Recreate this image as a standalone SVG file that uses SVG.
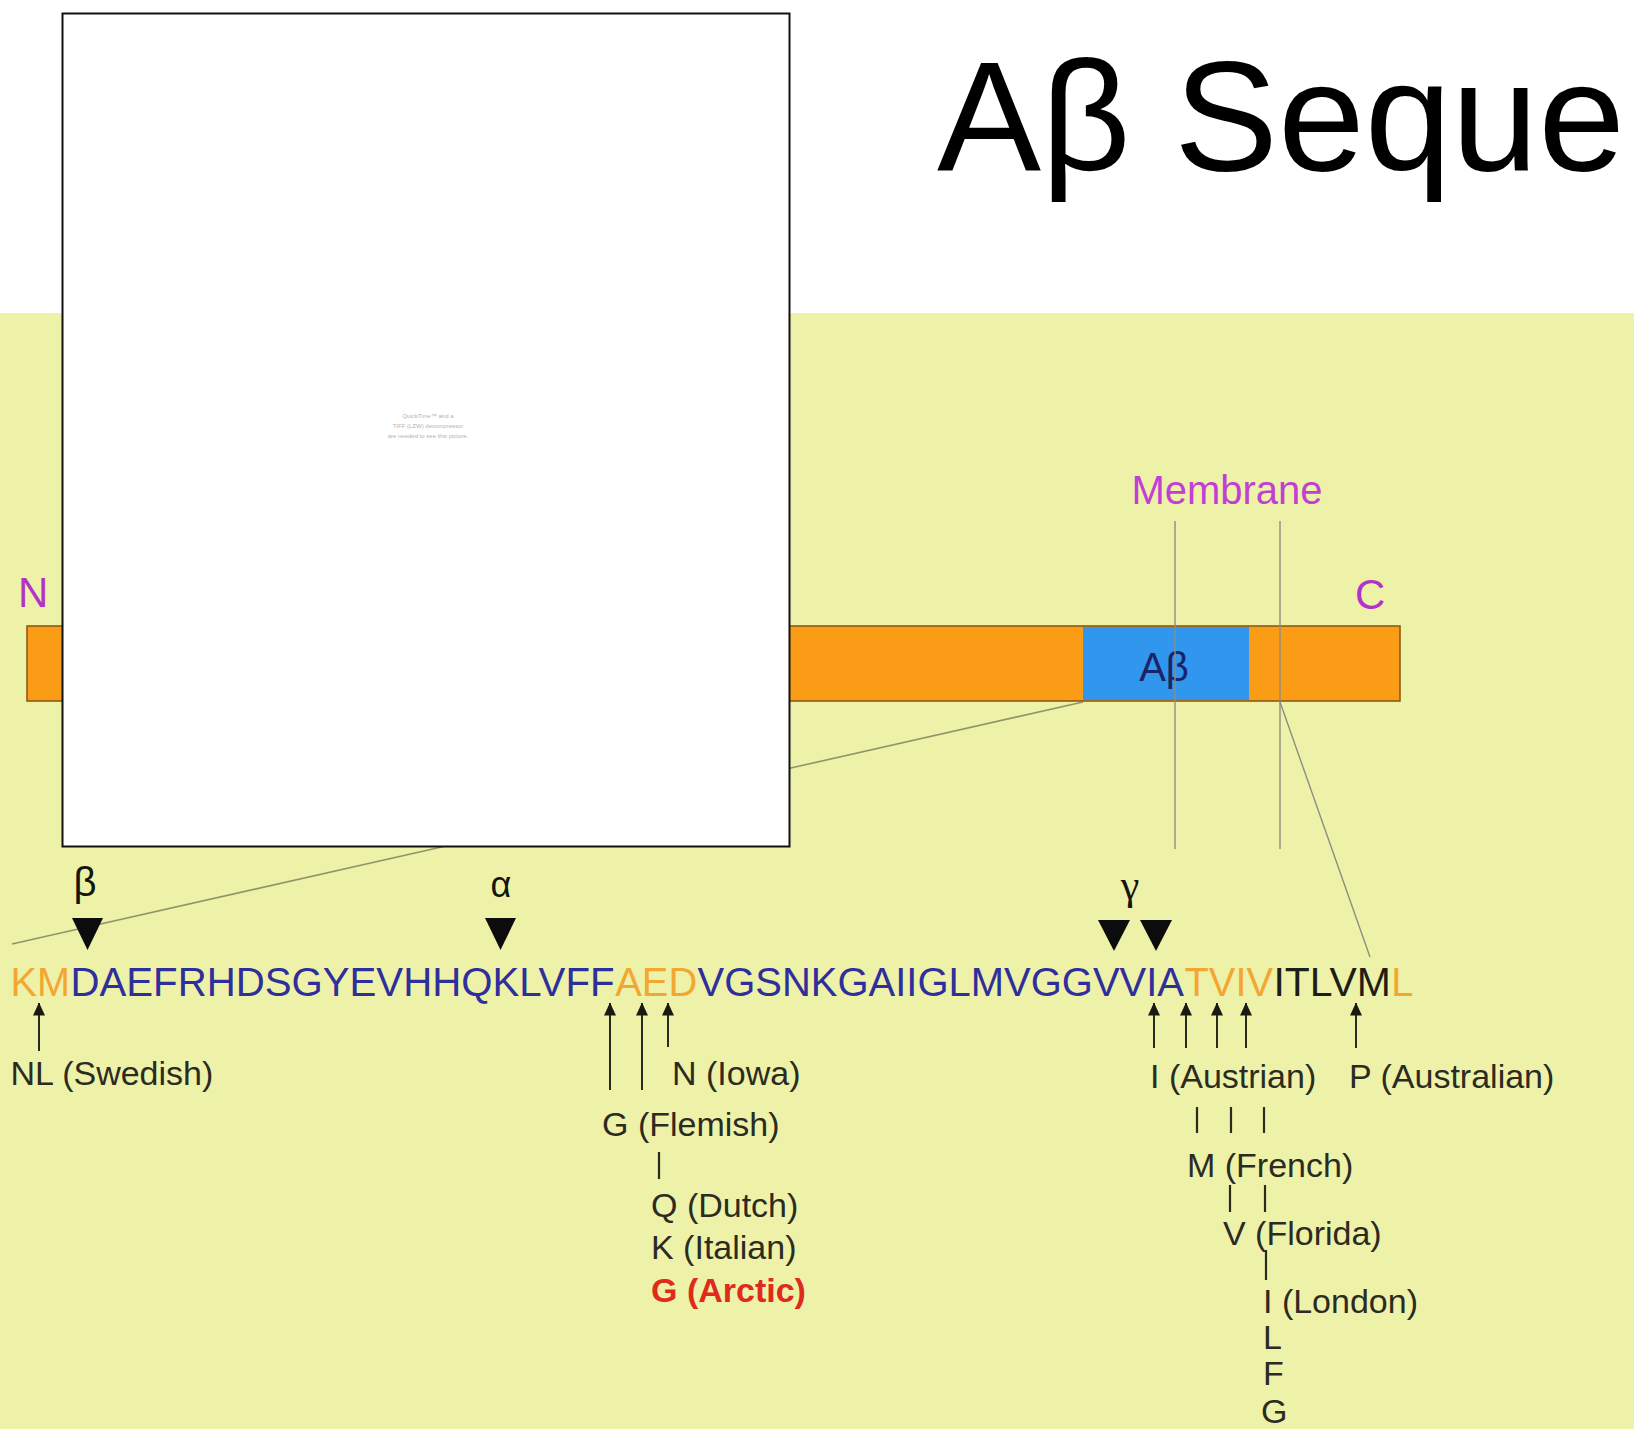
<svg xmlns="http://www.w3.org/2000/svg" width="1634" height="1429" viewBox="0 0 1634 1429">
  <style>
    .sans { font-family: "Liberation Sans", Arial, Helvetica, sans-serif; }
    .lbl { font-family: "Liberation Sans", Arial, sans-serif; font-size: 34px; fill: #2b2b22; }
    .term { font-family: "Liberation Sans", Arial, sans-serif; font-size: 42px; fill: #b233c8; }
    .greek { font-family: "Liberation Sans", Arial, sans-serif; font-size: 34px; fill: #151510; text-anchor: middle; }
    .res { font-family: "Liberation Sans", Arial, sans-serif; font-size: 40px; }
    .cut { fill: #0c0c0c; }
    .arrow { stroke: #2a2a1e; stroke-width: 2; fill: none; marker-end: url(#head); }
    .tick { stroke: #2a2a1e; stroke-width: 2.2; }
    .guide { stroke: #8d8f80; stroke-width: 1.4; fill: none; }
    .zoomline { stroke: #8e9668; stroke-width: 1.6; fill: none; }
    .ora { fill: #f3a733; }
    .blu { fill: #2f2f9c; }
    .blk { fill: #1e1e18; }
  </style>
  <defs>
    <marker id="head" viewBox="0 0 13 12" refX="12.5" refY="6" markerWidth="13" markerHeight="12" orient="auto" markerUnits="userSpaceOnUse">
      <path d="M0,0 L13,6 L0,12 z" fill="#1a1a12"/>
    </marker>
  </defs>

  <!-- page background: white header, yellow body -->
  <rect x="0" y="0" width="1634" height="1429" fill="#ffffff"/>
  <rect x="0" y="313" width="1634" height="1116" fill="#eef2a9"/>

  <!-- title -->
  <g id="title">
    <text x="937" y="170" class="sans" font-size="156" fill="#000" textLength="688" lengthAdjust="spacing">Aβ Seque</text>
  </g>

  <!-- connectors: zoom lines, membrane boundaries, mutation arrows and ticks -->
  <g id="connectors">
    <line class="zoomline" x1="1083" y1="702" x2="12" y2="944"/>
    <line class="guide" x1="1280" y1="702" x2="1370" y2="957"/>

    <!-- mutation arrows pointing up at residues -->
    <line class="arrow" x1="39" y1="1051" x2="39" y2="1003"/>
    <line class="arrow" x1="610" y1="1090" x2="610" y2="1003"/>
    <line class="arrow" x1="642" y1="1090" x2="642" y2="1003"/>
    <line class="arrow" x1="668" y1="1047" x2="668" y2="1003"/>
    <line class="arrow" x1="1154" y1="1048" x2="1154" y2="1003"/>
    <line class="arrow" x1="1186" y1="1048" x2="1186" y2="1003"/>
    <line class="arrow" x1="1217" y1="1048" x2="1217" y2="1003"/>
    <line class="arrow" x1="1246" y1="1048" x2="1246" y2="1003"/>
    <line class="arrow" x1="1356" y1="1048" x2="1356" y2="1003"/>

    <!-- vertical ticks linking stacked variants -->
    <line class="tick" x1="659" y1="1152" x2="659" y2="1179"/>
    <line class="tick" x1="1197" y1="1107" x2="1197" y2="1133"/>
    <line class="tick" x1="1231" y1="1107" x2="1231" y2="1133"/>
    <line class="tick" x1="1264" y1="1107" x2="1264" y2="1133"/>
    <line class="tick" x1="1230" y1="1185" x2="1230" y2="1212"/>
    <line class="tick" x1="1265" y1="1185" x2="1265" y2="1212"/>
    <line class="tick" x1="1266" y1="1250" x2="1266" y2="1280"/>
  </g>

  <!-- APP bar with the Aβ segment -->
  <g id="app-bar">
    <rect x="27" y="626" width="1373" height="75" fill="#fa9c16" stroke="#8c5a16" stroke-width="1.6"/>
    <rect x="1083" y="627" width="166" height="73" fill="#3196ee"/>
    <text x="1164" y="681" class="sans" font-size="40" fill="#1a2466" text-anchor="middle">Aβ</text>
  </g>

  <!-- membrane boundaries drawn across the bar -->
  <g id="membrane">
    <line class="guide" x1="1175" y1="521" x2="1175" y2="849"/>
    <line class="guide" x1="1280" y1="521" x2="1280" y2="849"/>
    <text x="1227" y="504" class="sans" font-size="40" fill="#c23fd3" text-anchor="middle">Membrane</text>
  </g>

  <g id="n-terminus"><text x="18" y="607" class="term">N</text></g>
  <g id="c-terminus"><text x="1355" y="609" class="term">C</text></g>

  <!-- empty movie frame with its placeholder notice -->
  <g id="frame">
    <rect x="62.5" y="13.5" width="727" height="833" fill="#ffffff" stroke="#111" stroke-width="2"/>
    <g class="sans" font-size="6" fill="#b4b4b4" text-anchor="middle">
      <text x="428" y="418">QuickTime™ and a</text>
      <text x="428" y="428">TIFF (LZW) decompressor</text>
      <text x="428" y="438">are needed to see this picture.</text>
    </g>
  </g>

  <!-- secretase cleavage sites -->
  <g id="beta-site">
    <text x="85" y="896" class="greek" style="font-size:40px">β</text>
    <path class="cut" d="M72,918 L103,918 L87.5,950 z"/>
  </g>
  <g id="alpha-site">
    <text x="501" y="897" class="greek" style="font-size:36px">α</text>
    <path class="cut" d="M485,918 L516,918 L500.5,950 z"/>
  </g>
  <g id="gamma-site">
    <text x="1130" y="899" class="greek" style="font-family:'Liberation Serif','Times New Roman',serif;font-size:42px">γ</text>
    <path class="cut" d="M1098,920 L1130,920 L1114,951 z"/>
    <path class="cut" d="M1140,920 L1172,920 L1156,951 z"/>
  </g>

  <!-- residue sequence, one run per colour -->
  <g id="sequence">
    <text x="10.5" y="996" class="res ora" textLength="59.5" lengthAdjust="spacingAndGlyphs">KM</text>
    <text x="70.5" y="996" class="res blu" textLength="544" lengthAdjust="spacingAndGlyphs">DAEFRHDSGYEVHHQKLVFF</text>
    <text x="615.2" y="996" class="res ora" textLength="82" lengthAdjust="spacingAndGlyphs">AED</text>
    <text x="697.5" y="996" class="res blu" textLength="486.5" lengthAdjust="spacingAndGlyphs">VGSNKGAIIGLMVGGVVIA</text>
    <text x="1184.5" y="996" class="res ora" textLength="88.5" lengthAdjust="spacingAndGlyphs">TVIV</text>
    <text x="1273.4" y="996" class="res blk" textLength="117.5" lengthAdjust="spacingAndGlyphs">ITLVM</text>
    <text x="1391.2" y="996" class="res ora" textLength="22" lengthAdjust="spacingAndGlyphs">L</text>
  </g>

  <!-- familial mutations -->
  <g id="swedish"><text x="10.5" y="1085" class="lbl">NL (Swedish)</text></g>
  <g id="iowa"><text x="672" y="1085" class="lbl">N (Iowa)</text></g>
  <g id="flemish"><text x="602" y="1136" class="lbl">G (Flemish)</text></g>
  <g id="dutch"><text x="651" y="1217" class="lbl">Q (Dutch)</text></g>
  <g id="italian"><text x="651" y="1259" class="lbl">K (Italian)</text></g>
  <g id="arctic"><text x="651" y="1302" class="lbl" style="fill:#e02a1c;font-weight:bold">G (Arctic)</text></g>
  <g id="austrian"><text x="1150" y="1088" class="lbl">I (Austrian)</text></g>
  <g id="australian"><text x="1349" y="1088" class="lbl">P (Australian)</text></g>
  <g id="french"><text x="1187" y="1177" class="lbl">M (French)</text></g>
  <g id="florida"><text x="1223" y="1245" class="lbl">V (Florida)</text></g>
  <g id="london">
    <text x="1263" y="1313" class="lbl">I (London)</text>
    <text x="1263" y="1349" class="lbl">L</text>
    <text x="1263" y="1385" class="lbl">F</text>
    <text x="1261" y="1423" class="lbl">G</text>
  </g>
</svg>
